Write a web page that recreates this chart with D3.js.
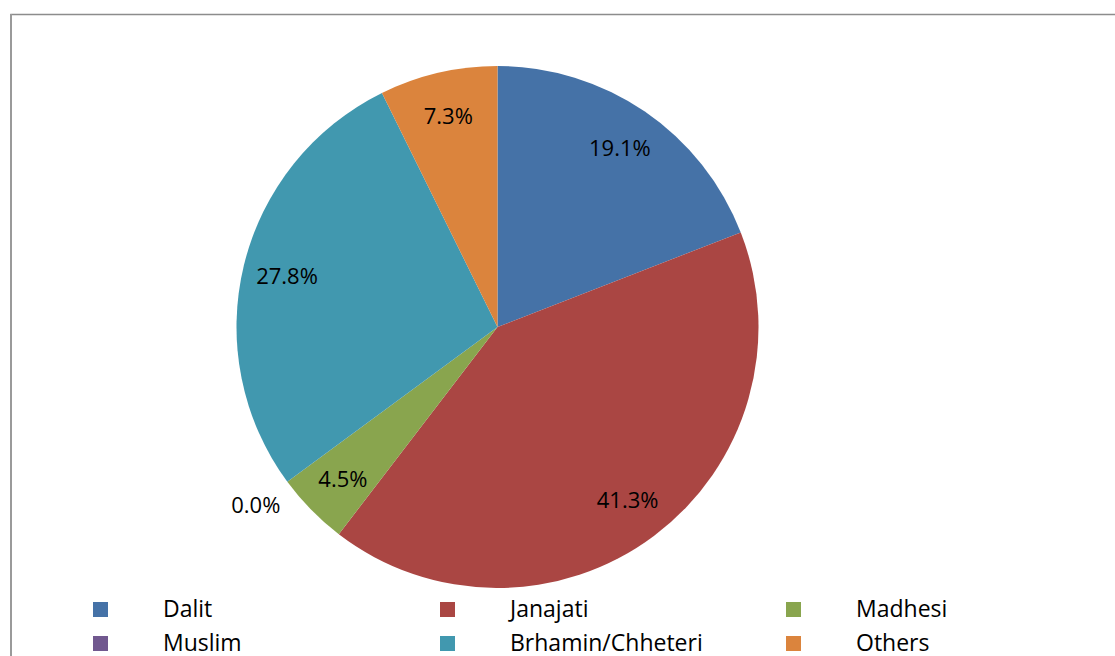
<!DOCTYPE html>
<html><head><meta charset="utf-8">
<script src="https://cdn.jsdelivr.net/npm/d3@7"></script>
<style>body{margin:0;background:#fff;}svg{display:block;}</style>
</head><body>
<svg id="c" width="1115" height="656"></svg>
<script>
const categories = ["Dalit","Janajati","Madhesi","Muslim","Brhamin/Chheteri","Others"];
const values = [19.1, 41.3, 4.5, 0.0, 27.8, 7.3];
const colors = ["#4572A7","#AA4643","#89A54E","#71588F","#4198AF","#DB843D"];

const svg = d3.select("#c");
const font = "'Open Sans', sans-serif";
// frame
svg.append("rect").attr("x",11).attr("y",14.5).attr("width",1200).attr("height",800)
  .attr("fill","#fff").attr("stroke","#8c8c8c").attr("stroke-width",1.5);
svg.append("line").attr("x1",11).attr("x2",11).attr("y1",14).attr("y2",656).attr("stroke","#9a9a9a").attr("stroke-width",2);

const cx = 497.5, cy = 327, r = 261;
const g = svg.append("g").attr("transform",`translate(${cx},${cy})`);
const pie = d3.pie().sort(null).value(d=>d);
const arcs = pie(values);
const arc = d3.arc().innerRadius(0).outerRadius(r);
g.selectAll("path").data(arcs).join("path").attr("d",arc).attr("fill",(d,i)=>colors[i]);

const labelArc = d3.arc().innerRadius(r*0.83).outerRadius(r*0.83);
const outerArc = d3.arc().innerRadius(r*1.15).outerRadius(r*1.15);
g.selectAll("text.lbl").data(arcs).join("text").attr("class","lbl")
  .attr("transform",d=>{
    const p = d.value===0 ? outerArc.centroid(d) : labelArc.centroid(d);
    return `translate(${p[0]},${p[1]})`;
  })
  .attr("text-anchor","middle").attr("dy","0.36em")
  .attr("font-family",font).attr("font-size",22).attr("fill","#000")
  .text(d=>d.value.toFixed(1)+"%");

// legend
const colX = [93, 440, 786], rowY = [609, 643];
const leg = svg.append("g");
categories.forEach((c,i)=>{
  const col = i%3, row = Math.floor(i/3);
  leg.append("rect").attr("x",colX[col]).attr("y",rowY[row]-7).attr("width",15).attr("height",15).attr("fill",colors[i]);
  leg.append("text").attr("x",colX[col]+70).attr("y",rowY[row]).attr("dy","0.36em")
    .attr("font-family",font).attr("font-size",23).attr("fill","#000").text(c);
});
</script>
</body></html>
